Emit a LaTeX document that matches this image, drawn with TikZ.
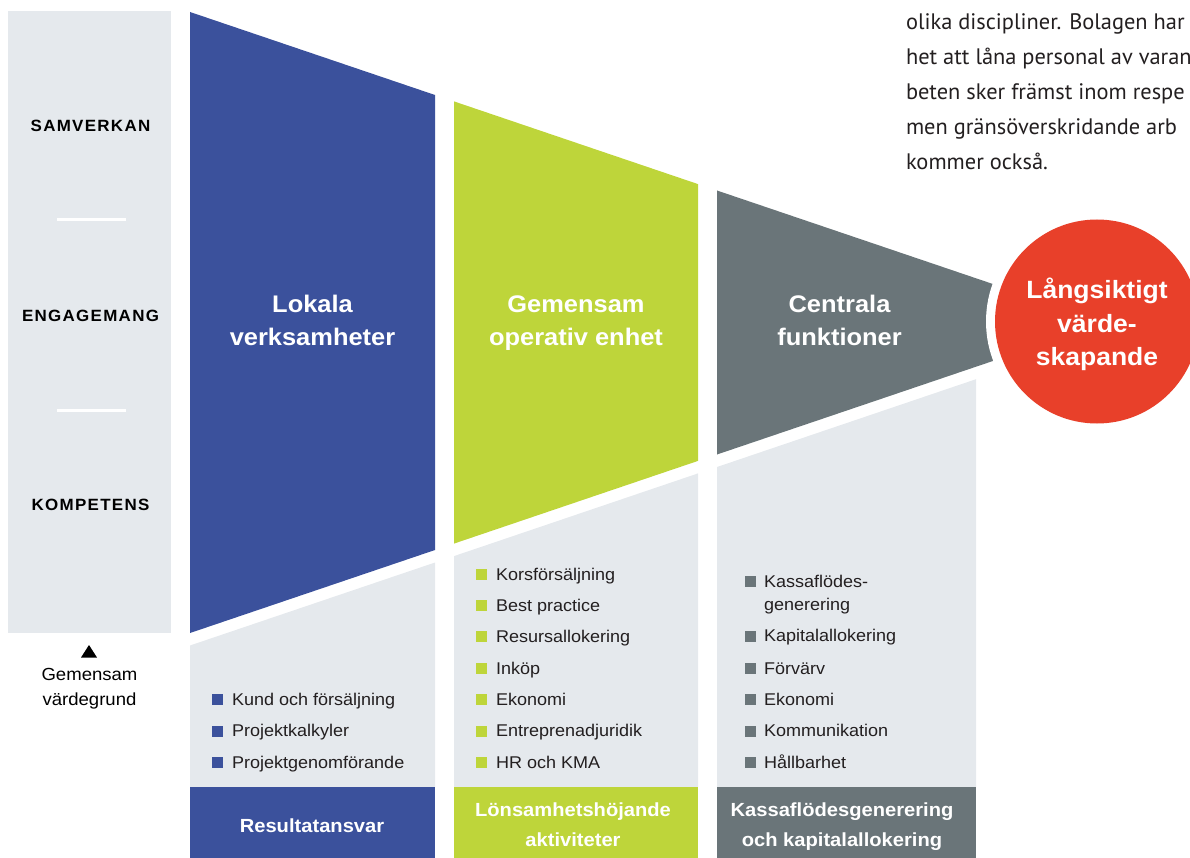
\documentclass[tikz,border=0pt]{standalone}
\usepackage{fontspec}
\setmainfont[FakeStretch=1.06]{Liberation Sans}
\newfontfamily\parafont{PT Sans}
\newfontfamily\capsfont[FakeStretch=1.04,LetterSpace=8]{Liberation Sans}
\definecolor{cblue}{HTML}{3B519C}
\definecolor{cgreen}{HTML}{BED53A}
\definecolor{cgray}{HTML}{6A7579}
\definecolor{cred}{HTML}{E8402A}
\definecolor{clight}{HTML}{E5E9ED}
\definecolor{ctext}{HTML}{231F20}
\tikzset{
  txt/.style={inner sep=0pt, outer sep=0pt, anchor=base},
  capslbl/.style={txt, font=\capsfont\bfseries\fontsize{16.3}{18}\selectfont, text=black},
  smalllbl/.style={txt, font=\fontsize{17.5}{20}\selectfont, text=black},
  head/.style={txt, font=\bfseries\fontsize{24}{30}\selectfont, text=white},
  redhead/.style={txt, font=\bfseries\fontsize{25}{30}\selectfont, text=white},
  foot/.style={txt, font=\bfseries\fontsize{19}{24}\selectfont, text=white},
  item/.style={inner sep=0pt, outer sep=0pt, anchor=base west, font=\fontsize{17}{20}\selectfont, text=ctext},
  sq/.style={fill=#1, minimum size=11pt, inner sep=0pt, outer sep=0pt},
  para/.style={inner sep=0pt, outer sep=0pt, anchor=base west, font=\parafont\fontsize{22.4}{30}\selectfont, text=ctext},
  sepline/.style={white, line width=3pt}
}
\begin{document}
\begin{tikzpicture}[x=1pt,y=-1pt]
\useasboundingbox (0,0) rectangle (1190,858);
% left column
\fill[clight] (8,11) rectangle (171,633);
\coordinate (l1a) at (57,220); \coordinate (l1b) at (126,220);
\coordinate (l2a) at (57,410); \coordinate (l2b) at (126,410);
\draw[sepline] (l1a) -- (l1b);
\draw[sepline] (l2a) -- (l2b);
\node[capslbl] (samv) at (90.5,131.7) {SAMVERKAN};
\node[capslbl] (enga) at (90.5,321) {ENGAGEMANG};
\node[capslbl] (komp) at (90.5,510.7) {KOMPETENS};
\fill[black] (81,657.5) -- (97,657.5) -- (89,645) -- cycle;
\node[smalllbl] (gem1) at (89.5,680.5) {Gemensam};
\node[smalllbl] (gem2) at (89.5,705) {värdegrund};
% funnel shapes
\fill[cblue] (190,12) -- (435,95) -- (435,550) -- (190,633) -- cycle;
\fill[cgreen] (454,101.4) -- (698,184.1) -- (698,460.9) -- (454,543.6) -- cycle;
\fill[cgray] (717,190.5) -- (1010,289.8) -- (1010,355.2) -- (717,454.5) -- cycle;
\fill[white] (1097,321.5) circle[radius=111];
\fill[cred] (1097,321.5) circle[radius=102];
% light panels
\fill[clight] (190,645.5) -- (435,562.5) -- (435,787) -- (190,787) -- cycle;
\fill[clight] (454,556.1) -- (698,473.4) -- (698,787) -- (454,787) -- cycle;
\fill[clight] (717,467) -- (976,379.2) -- (976,787) -- (717,787) -- cycle;
% bottom bars
\fill[cblue] (190,787) rectangle (435,858);
\fill[cgreen] (454,787) rectangle (698,858);
\fill[cgray] (717,787) rectangle (976,858);
% headings
\node[head] (lok1) at (312.5,312.3) {Lokala};
\node[head] (lok2) at (312.5,345) {verksamheter};
\node[head] (gop1) at (576,312.3) {Gemensam};
\node[head] (gop2) at (576,345) {operativ enhet};
\node[head] (cen1) at (839.5,312.3) {Centrala};
\node[head] (cen2) at (839.5,345) {funktioner};
\node[redhead] (lv1) at (1097,298.5) {Långsiktigt};
\node[redhead] (lv2) at (1097,332) {värde-};
\node[redhead] (lv3) at (1097,365) {skapande};
% blue list
\node[sq=cblue] (bs1) at (217.5,699.5) {};
\node[item] (bi1) at (232,705) {Kund och försäljning};
\node[sq=cblue] (bs2) at (217.5,731.2) {};
\node[item] (bi2) at (232,736.7) {Projektkalkyler};
\node[sq=cblue] (bs3) at (217.5,762.8) {};
\node[item] (bi3) at (232,768.3) {Projektgenomförande};
% green list
\node[sq=cgreen] (gs1) at (481.5,574.5) {};
\node[item] (gi1) at (496,580) {Korsförsäljning};
\node[sq=cgreen] (gs2) at (481.5,605.5) {};
\node[item] (gi2) at (496,611) {Best practice};
\node[sq=cgreen] (gs3) at (481.5,636.5) {};
\node[item] (gi3) at (496,642) {Resursallokering};
\node[sq=cgreen] (gs4) at (481.5,668.5) {};
\node[item] (gi4) at (496,674) {Inköp};
\node[sq=cgreen] (gs5) at (481.5,699.5) {};
\node[item] (gi5) at (496,705) {Ekonomi};
\node[sq=cgreen] (gs6) at (481.5,731.2) {};
\node[item] (gi6) at (496,736.7) {Entreprenadjuridik};
\node[sq=cgreen] (gs7) at (481.5,762.8) {};
\node[item] (gi7) at (496,768.3) {HR och KMA};
% gray list
\node[sq=cgray] (ks1) at (750.5,581.8) {};
\node[item] (ki1) at (764,587.3) {Kassaflödes-};
\node[item] (ki1b) at (764,610.7) {generering};
\node[sq=cgray] (ks2) at (750.5,636.2) {};
\node[item] (ki2) at (764,641.7) {Kapitalallokering};
\node[sq=cgray] (ks3) at (750.5,668.5) {};
\node[item] (ki3) at (764,674) {Förvärv};
\node[sq=cgray] (ks4) at (750.5,699.5) {};
\node[item] (ki4) at (764,705) {Ekonomi};
\node[sq=cgray] (ks5) at (750.5,731.2) {};
\node[item] (ki5) at (764,736.7) {Kommunikation};
\node[sq=cgray] (ks6) at (750.5,762.8) {};
\node[item] (ki6) at (764,768.3) {Hållbarhet};
% bottom labels
\node[foot] (f1) at (312,832.7) {Resultatansvar};
\node[foot] (f2a) at (573,816.7) {Lönsamhetshöjande};
\node[foot] (f2b) at (573,846) {aktiviteter};
\node[foot] (f3a) at (842,816.7) {Kassaflödesgenerering};
\node[foot] (f3b) at (842,846) {och kapitalallokering};
% paragraph, as much of it as the page shows
\node[para] (p1) at (906,30) {olika discipliner. Bolagen har};
\node[para] (p2) at (906,65) {het att låna personal av varan};
\node[para] (p3) at (906,100) {beten sker främst inom respe};
\node[para] (p4) at (906,135) {men gränsöverskridande arb};
\node[para] (p5) at (906,170) {kommer också.};
\end{tikzpicture}
\end{document}
